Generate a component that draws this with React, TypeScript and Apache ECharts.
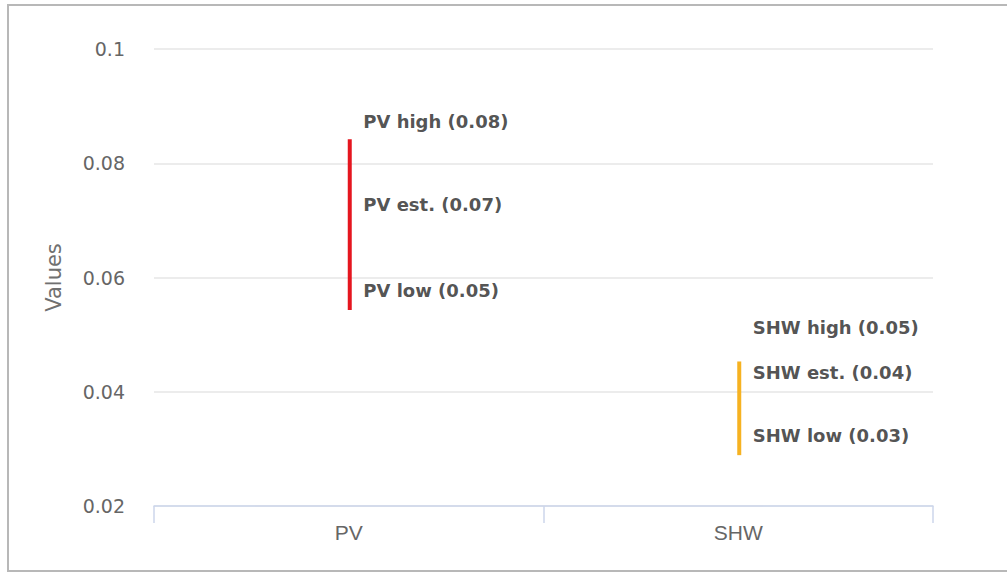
import React, { useEffect, useRef } from "react";
import * as echarts from "echarts";

const categories = ["PV", "SHW"];
const lowValues = [0.0543, 0.0289];
const estValues = [0.0694, 0.0401];
const highValues = [0.0842, 0.0453];
const rangeColors = ["#e5161f", "#f6b221"];
const yTicks = { min: 0.02, max: 0.1, interval: 0.02 };

const labelColor = "#262626";
const labelFont = "DejaVu Sans";

export default function App() {
  const ref = useRef<HTMLDivElement>(null);
  useEffect(() => {
    if (!ref.current) return;
    const chart = echarts.init(ref.current, undefined, { renderer: "svg" });

    const rangeData = categories.map((c, i) => [i, lowValues[i], highValues[i]]);

    const kinds = [
      { key: "high", values: highValues, shifts: [-18, -34] },
      { key: "est.", values: estValues, shifts: [-19, -19] },
      { key: "low", values: lowValues, shifts: [-20, -20] },
    ];

    const labelSeries = kinds.map((k) => ({
      type: "scatter",
      name: k.key,
      symbolSize: 1,
      itemStyle: { color: "rgba(0,0,0,0)" },
      silent: true,
      z: 5,
      data: categories.map((c, i) => ({
        value: [c, k.values[i]],
        label: {
          show: true,
          position: "right",
          distance: 14,
          offset: [0, k.shifts[i]],
          formatter: `${c} ${k.key} (${k.values[i].toFixed(2)})`,
          color: labelColor,
          fontFamily: labelFont,
          fontSize: 18,
          fontWeight: "bold",
        },
      })),
    }));

    chart.setOption({
      animation: false,
      backgroundColor: "#ffffff",
      grid: { left: 154, right: 74, top: 49, bottom: 67, containLabel: false },
      graphic: [
        {
          type: "polyline",
          shape: { points: [[1007, 5], [8, 5], [8, 571], [1007, 571]] },
          style: { fill: "none", stroke: "#b8b8b8", lineWidth: 2 },
          silent: true,
        },
      ],
      xAxis: {
        type: "category",
        data: categories,
        axisLine: { show: true, lineStyle: { color: "#ccd6eb", width: 1.5 } },
        axisTick: { show: true, length: 17, lineStyle: { color: "#ccd6eb", width: 1.5 } },
        axisLabel: {
          color: "#666666",
          fontFamily: "Liberation Sans Narrow, Liberation Sans",
          fontSize: 21,
          margin: 16,
        },
        splitLine: { show: false },
      },
      yAxis: {
        type: "value",
        min: yTicks.min,
        max: yTicks.max,
        interval: yTicks.interval,
        name: "Values",
        nameLocation: "middle",
        nameGap: 90,
        nameTextStyle: { color: "#707070", fontFamily: labelFont, fontSize: 21 },
        axisLine: { show: false },
        axisTick: { show: false },
        axisLabel: {
          color: "#666666",
          fontFamily: labelFont,
          fontSize: 19,
          margin: 29,
          formatter: (v: number) => String(parseFloat(v.toFixed(2))),
        },
        splitLine: { lineStyle: { color: "#e6e6e6", width: 1.5 } },
      },
      series: [
        {
          type: "custom",
          name: "range",
          encode: { x: 0, y: [1, 2] },
          data: rangeData,
          z: 3,
          renderItem: (params: any, api: any) => {
            const idx = api.value(0);
            const p1 = api.coord([idx, api.value(1)]);
            const p2 = api.coord([idx, api.value(2)]);
            return {
              type: "line",
              shape: { x1: p1[0] + 1, y1: p1[1], x2: p2[0] + 1, y2: p2[1] },
              style: {
                stroke: rangeColors[params.dataIndex],
                lineWidth: 4,
                lineCap: "butt",
              },
            };
          },
        },
        ...labelSeries,
      ],
    });
    return () => chart.dispose();
  }, []);
  return (
    <div
      ref={ref}
      style={{ position: "fixed", left: 0, top: 0, width: 1007, height: 573 }}
    />
  );
}
